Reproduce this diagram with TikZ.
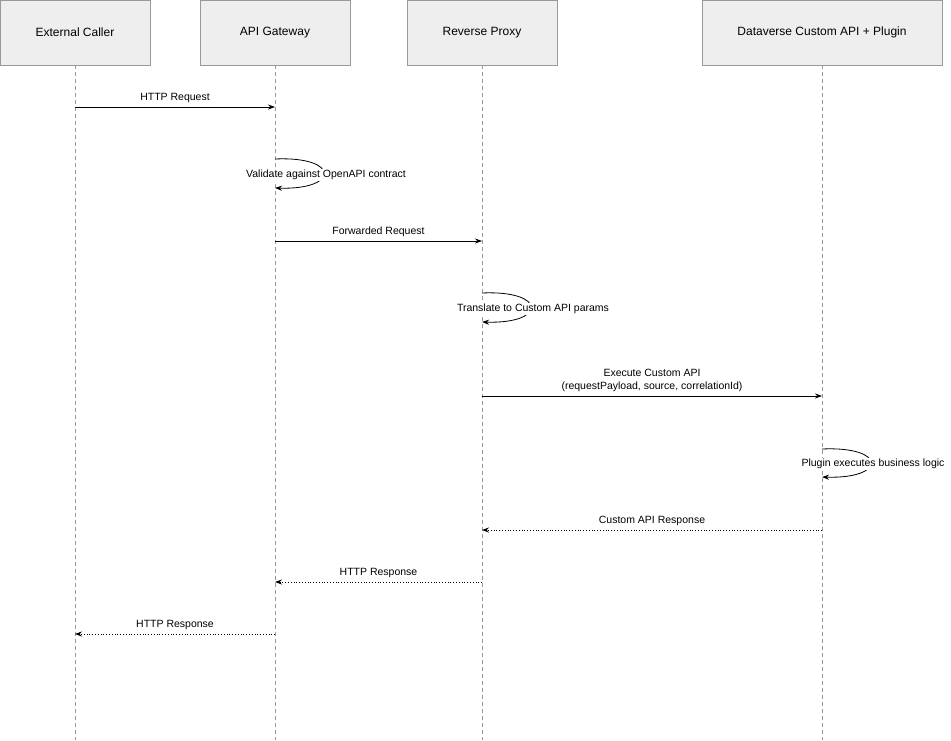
\documentclass[tikz,border=0pt]{standalone}
\usepackage{fontspec}
\setmainfont{Liberation Sans}
\usetikzlibrary{arrows.meta}
\definecolor{boxfill}{HTML}{EEEEEE}
\definecolor{boxline}{HTML}{999999}
\tikzset{
  actor/.style={draw=boxline, fill=boxfill, minimum height=65pt, inner sep=0pt, font=\fontsize{12}{14}\selectfont},
  life/.style={boxline, dashed, dash pattern=on 4pt off 3pt, line width=0.5pt},
  msg/.style={-{Stealth[length=7pt,width=5pt]}, line width=0.8pt},
  reply/.style={msg, dotted},
  lbl/.style={fill=white, inner sep=1pt, font=\fontsize{10.5}{13}\selectfont, align=center}
}
\begin{document}
\begin{tikzpicture}[x=1pt, y=-1pt]
    \useasboundingbox (0,0) rectangle (951,740);

    % Participants
    \node[actor, minimum width=150pt] (caller) at (75,32.5) {External Caller};
    \node[actor, minimum width=150pt] (gateway) at (275,32.5) {API Gateway};
    \node[actor, minimum width=150pt] (proxy) at (482,32.5) {Reverse Proxy};
    \node[actor, minimum width=240pt] (dataverse) at (822,32.5) {Dataverse Custom API + Plugin};

    % Lifelines
    \foreach \p/\x in {caller/75, gateway/275, proxy/482, dataverse/822} {
        \coordinate (\p-end) at (\x,740);
        \draw[life] (\p) -- (\p-end);
    }

    % Messages
    \coordinate (m1a) at (75,107); \coordinate (m1b) at (275,107);
    \draw[msg] (m1a) -- (m1b);
    \node[lbl] (m1) at (175,98) {HTTP Request};

    \coordinate (s1a) at (275,159); \coordinate (s1b) at (275,188);
    \draw[msg] (s1a) .. controls (340,156) and (340,190) .. (s1b);
    \node[lbl] (s1) at (326,175) {Validate against OpenAPI contract};

    \coordinate (m2a) at (275,241); \coordinate (m2b) at (482,241);
    \draw[msg] (m2a) -- (m2b);
    \node[lbl] (m2) at (378.5,232) {Forwarded Request};

    \coordinate (s2a) at (482,293); \coordinate (s2b) at (482,322);
    \draw[msg] (s2a) .. controls (547,290) and (547,324) .. (s2b);
    \node[lbl] (s2) at (533,309) {Translate to Custom API params};

    \coordinate (m3a) at (482,396); \coordinate (m3b) at (822,396);
    \draw[msg] (m3a) -- (m3b);
    \node[lbl] (m3) at (652,380) {Execute Custom API\\(requestPayload, source, correlationId)};

    \coordinate (s3a) at (822,449); \coordinate (s3b) at (822,477);
    \draw[msg] (s3a) .. controls (887,446) and (887,479) .. (s3b);
    \node[lbl] (s3) at (873,464) {Plugin executes business logic};

    % Replies
    \coordinate (r1a) at (822,530); \coordinate (r1b) at (482,530);
    \draw[reply] (r1a) -- (r1b);
    \node[lbl] (r1) at (652,521) {Custom API Response};

    \coordinate (r2a) at (482,582); \coordinate (r2b) at (275,582);
    \draw[reply] (r2a) -- (r2b);
    \node[lbl] (r2) at (378.5,573) {HTTP Response};

    \coordinate (r3a) at (275,634); \coordinate (r3b) at (75,634);
    \draw[reply] (r3a) -- (r3b);
    \node[lbl] (r3) at (175,625) {HTTP Response};
\end{tikzpicture}
\end{document}
